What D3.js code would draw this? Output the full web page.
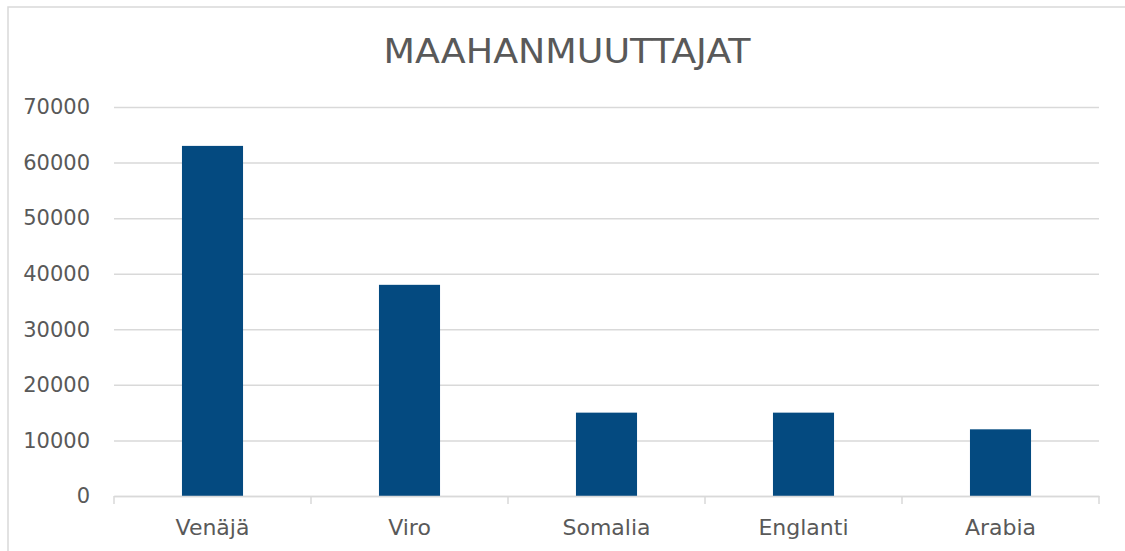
<!DOCTYPE html>
<html>
<head>
<meta charset="utf-8">
<script src="https://cdn.jsdelivr.net/npm/d3@7"></script>
<style>
  body { margin: 0; background: #fff; }
  svg { display: block; font-family: "DejaVu Sans", sans-serif; }
</style>
</head>
<body>
<div id="chart"></div>
<script>
const categories = ["Venäjä", "Viro", "Somalia", "Englanti", "Arabia"];
const values = [63000, 38000, 15000, 15000, 12000];
const yTicks = [0, 10000, 20000, 30000, 40000, 50000, 60000, 70000];
const title = "MAAHANMUUTTAJAT";

const w = 1125, h = 551,
  m = {top: 107, right: 26, bottom: 55, left: 114};

const svg = d3.select("#chart")
  .append("svg")
  .attr("width", w)
  .attr("height", h);

// chart frame (cropped on right and bottom)
svg.append("rect")
  .attr("x", 8).attr("y", 7)
  .attr("width", w + 10).attr("height", h + 10)
  .attr("fill", "none")
  .attr("stroke", "#d9d9d9")
  .attr("stroke-width", 1.5);

let x = d3.scaleBand(categories, [m.left, w - m.right]);
let y = d3.scaleLinear([0, 70000], [h - m.bottom, m.top]);

// gridlines + y labels
const yAxis = svg.append("g")
  .attr("transform", `translate(${m.left},0)`)
  .call(d3.axisLeft(y).tickValues(yTicks).tickSize(-(w - m.left - m.right)).tickPadding(24).tickFormat(d3.format("d")));
yAxis.select(".domain").remove();
yAxis.selectAll(".tick line").attr("stroke", "#d9d9d9").attr("stroke-width", 1.5);
yAxis.selectAll(".tick text")
  .attr("fill", "#595959")
  .style("font-size", "21px")
  .style("font-family", "DejaVu Sans");

// bars
const barW = x.bandwidth() * 0.31;
svg.append("g")
  .selectAll("rect")
  .data(values)
  .join("rect")
  .attr("x", (d, i) => x(categories[i]) + (x.bandwidth() - barW) / 2)
  .attr("y", d => y(d))
  .attr("width", barW)
  .attr("height", d => y(0) - y(d))
  .attr("fill", "#044a80");

// x axis with ticks at band boundaries
const xAxis = svg.append("g")
  .attr("transform", `translate(0,${h - m.bottom})`)
  .call(d3.axisBottom(x).tickSize(0).tickPadding(23).tickSizeOuter(0));
xAxis.select(".domain").attr("stroke", "#d9d9d9").attr("stroke-width", 1.5);
xAxis.selectAll(".tick text")
  .attr("fill", "#595959")
  .style("font-size", "22px")
  .style("font-family", "DejaVu Sans");

const bounds = categories.map(c => x(c)).concat([x(categories[categories.length - 1]) + x.bandwidth()]);
xAxis.selectAll(".sep")
  .data(bounds)
  .join("line")
  .attr("class", "sep")
  .attr("x1", d => d).attr("x2", d => d)
  .attr("y1", 0).attr("y2", 8)
  .attr("stroke", "#d9d9d9")
  .attr("stroke-width", 1.5);

// title
svg.append("text")
  .attr("x", 567)
  .attr("y", 63)
  .attr("text-anchor", "middle")
  .attr("fill", "#595959")
  .style("font-size", "34px")
  .attr("textLength", 367)
  .attr("lengthAdjust", "spacingAndGlyphs")
  .text(title);
</script>
</body>
</html>
